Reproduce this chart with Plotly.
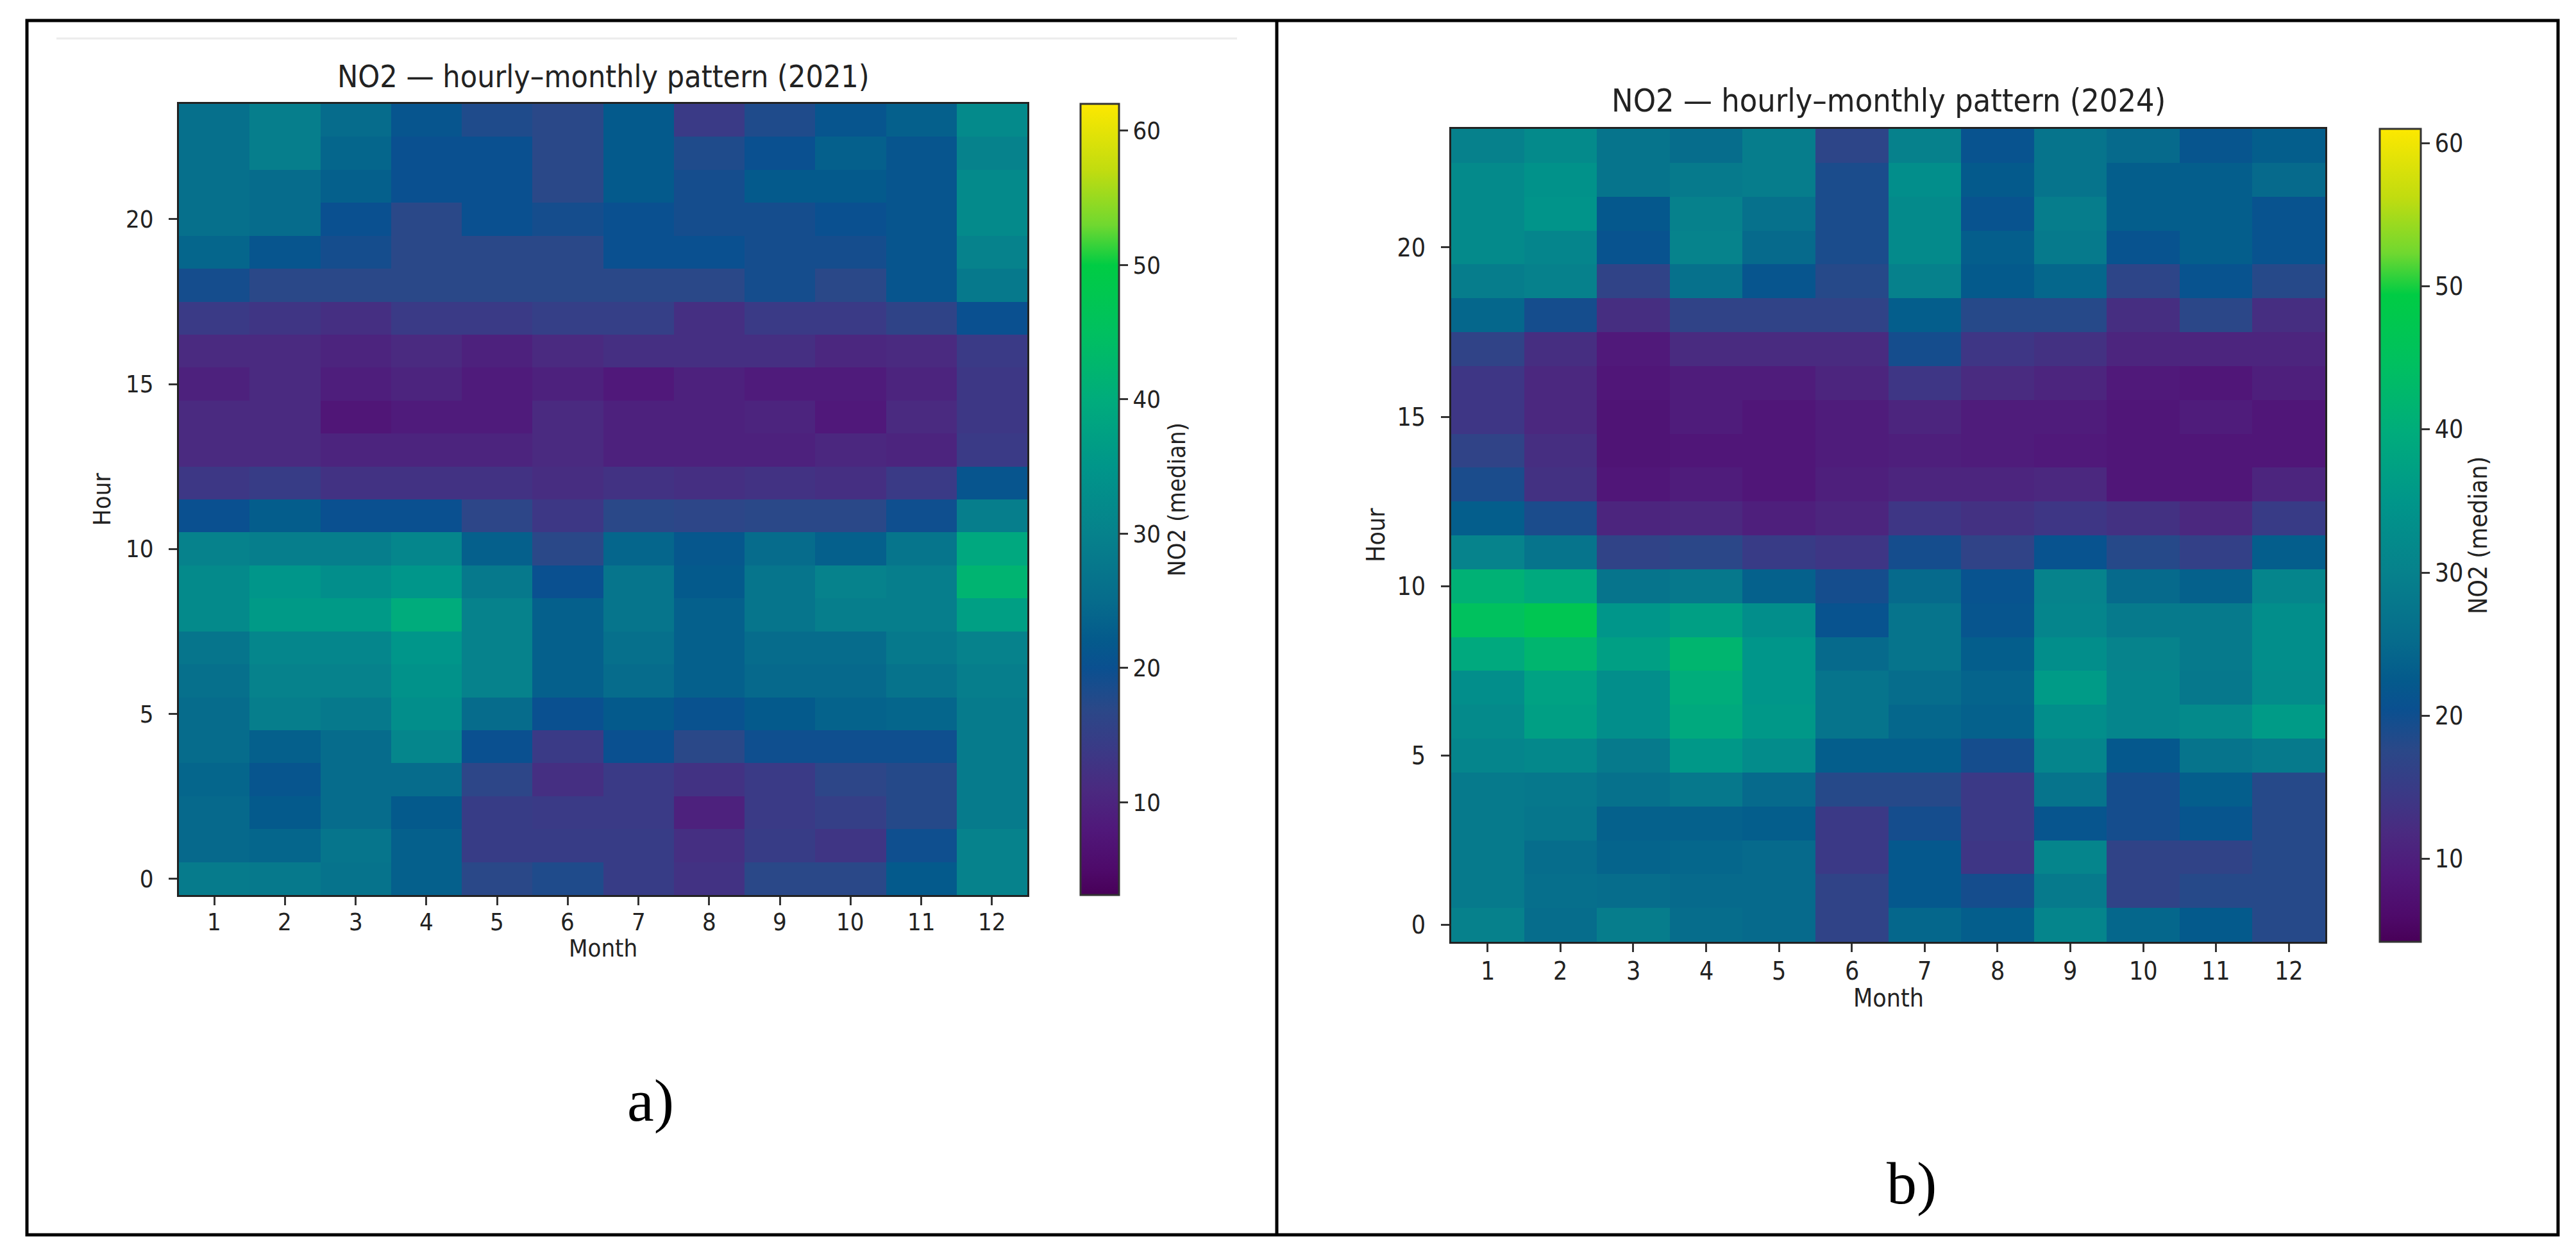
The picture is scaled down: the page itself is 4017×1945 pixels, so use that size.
import plotly.graph_objects as go

W, H = 4017, 1945

# ---------------- data ----------------
months = list(range(1, 13))
hours = list(range(24))
hour_ticks = [0, 5, 10, 15, 20]
cbar_ticks = [10, 20, 30, 40, 50, 60]

# NO2 median, rows = hour 0..23, columns = month 1..12
no2_2021 = [
    [28.5, 28, 26.5, 23, 17, 18, 14.5, 12.5, 17, 17, 22, 30],
    [24.5, 24, 27, 23, 14.5, 14.5, 14.5, 12, 14.5, 13, 19.5, 30],
    [24.5, 22, 25, 22, 14.5, 14, 14, 9.5, 14, 15, 17.5, 28.5],
    [24, 21, 25, 25, 16.5, 12, 14, 12.5, 14, 16.5, 17.5, 28.5],
    [25, 23, 25, 31, 20, 14, 20, 17, 19.5, 19.5, 19.5, 28.5],
    [25, 29, 28, 33, 25, 20, 22, 20.5, 22, 23.5, 24, 28.5],
    [26, 30, 30, 34, 30, 23, 25, 23, 24.5, 24.5, 26.5, 29],
    [27, 31, 31, 35, 30, 23, 26, 23, 25, 25, 28, 30],
    [32, 36, 36, 40, 30, 23, 27, 23, 27, 29, 29, 37],
    [32, 35, 33, 35, 28, 20, 27, 22, 27, 30, 29, 42],
    [30, 29, 29, 31, 23, 17, 24, 21.5, 25, 23, 27, 39],
    [20, 22.5, 20, 20, 16.5, 13.5, 17, 16.5, 17, 17, 19.5, 29],
    [13.5, 14.5, 12.5, 12.5, 12.5, 11.5, 12.5, 12, 12.5, 12, 14, 21],
    [11, 11, 10, 10, 10, 11, 9.5, 9.5, 9.5, 10.5, 10, 14],
    [11, 11, 7.5, 8.5, 8.5, 11, 9.5, 9.5, 10, 8, 11, 13.5],
    [9.5, 11, 9, 10, 8.5, 9.5, 8, 9.5, 8.5, 8.5, 10, 13.5],
    [11, 11, 10, 11, 9.5, 11, 12, 12, 12, 10.5, 11, 14],
    [14, 13, 12, 14, 14, 15, 15, 12, 14, 14, 16, 20],
    [19, 17, 17, 17, 17, 17, 17, 17, 19, 17, 21, 28],
    [24, 21, 19, 17, 17, 17, 20, 20, 19, 19, 21, 30],
    [26, 25, 20, 17, 20, 19, 20, 19, 19, 20, 21, 32],
    [26, 25, 23, 20, 20, 17, 22, 19, 22, 22, 21, 32],
    [26, 29, 24, 20, 20, 17, 22, 18, 20, 23, 21, 30],
    [26, 29, 25, 21, 18, 17, 22, 14, 18, 21, 23, 32],
]

no2_2024 = [
    [30, 25.5, 29, 25.5, 25, 16.5, 24.5, 23, 31, 24.5, 22.5, 18],
    [28.5, 26, 25.5, 25, 25, 16.5, 22, 19.5, 28.5, 16.5, 18, 18],
    [28.5, 25.5, 24, 24.5, 25, 14.5, 22, 14, 31, 16.5, 16.5, 18],
    [28.5, 27.5, 23.5, 23.5, 23, 14.5, 19.5, 14.5, 21.5, 19.5, 21.5, 18],
    [28.5, 28, 26.5, 28, 25, 18, 18, 14.5, 27, 19.5, 23, 18],
    [31, 31.5, 28.5, 35.5, 32.5, 23, 23, 19.5, 31, 22, 27, 28.5],
    [32, 37, 33, 39, 35.5, 27, 24.5, 23.5, 33, 31, 32, 36],
    [33, 37.5, 33, 40, 35, 27, 25.5, 24, 36, 31, 28, 32.5],
    [39, 42, 37, 42, 35, 25, 27, 23, 33, 30.5, 28.5, 33],
    [45, 47, 35, 37, 33, 21, 27, 21.5, 31, 28.5, 28.5, 33],
    [41, 39, 27, 28, 23.5, 19.5, 25, 21, 30.5, 25, 23.5, 31],
    [30.5, 27, 16.5, 17.5, 15, 14, 19.5, 16.5, 21, 18, 16, 23],
    [23, 19, 11, 11.5, 10, 11, 14, 13, 14, 13, 11.5, 15],
    [19, 13, 8.5, 9.5, 8.5, 10, 11, 11, 11.5, 8.5, 8.5, 11],
    [16.5, 12.5, 8, 8.5, 8.5, 9.5, 10, 9.5, 9, 8.5, 8.5, 8.5],
    [14, 11.5, 8, 9.5, 8.5, 9.5, 11, 9.5, 9.5, 8.5, 9.5, 8.5],
    [14, 11.5, 8.5, 9.5, 9.5, 11, 14, 12, 11, 9, 8.5, 10],
    [16.5, 12.5, 9, 12, 12, 12, 19.5, 14, 13, 11, 11, 11],
    [24.5, 19.5, 12.5, 16.5, 16.5, 16.5, 23, 18, 18, 12.5, 17.5, 12.5],
    [29, 30, 16.5, 26.5, 21.5, 18, 30, 22.5, 24.5, 17, 21, 18],
    [32, 31, 21, 30.5, 25, 19, 32, 23, 28.5, 21, 23, 21],
    [32, 34.5, 22, 30, 26.5, 19, 32, 21, 29, 23, 23, 21],
    [32, 34, 27, 28.5, 29, 19, 33, 22.5, 27, 23, 23, 25],
    [30, 32, 27, 25.5, 29, 17, 30, 21, 27, 25, 21.5, 23],
]

zrange_2021 = (3.1, 62.0)
zrange_2024 = (4.2, 61.0)

title_2021 = "NO2 \u2014 hourly\u2013monthly pattern (2021)"
title_2024 = "NO2 \u2014 hourly\u2013monthly pattern (2024)"
cbar_title = "NO2 (median)"

# ---------------- style ----------------
# colour map as seen in the picture (saturated viridis)
CMAP = [
    [0.000, "#480058"], [0.032, "#4e0a6a"], [0.083, "#50187a"],
    [0.134, "#4a2a80"], [0.185, "#3a3a86"], [0.236, "#2a4888"],
    [0.287, "#0a5090"], [0.321, "#045a8c"], [0.372, "#066c8c"],
    [0.457, "#06828c"], [0.542, "#00968a"], [0.626, "#00ac7c"],
    [0.711, "#00c060"], [0.796, "#00cc44"], [0.847, "#70d830"],
    [0.915, "#c0dc10"], [1.000, "#fde800"],
]
FONT = "DejaVu Sans Condensed, DejaVu Sans, sans-serif"
TXT = "#222222"


def px(x):
    return x / W


def py(y):
    return 1 - y / H


panels = [
    dict(z=no2_2021, zr=zrange_2021, title=title_2021, label="a)",
         x0=271, x1=1594, y0=154, y1=1388, cb_x=1677, cb_w=60,
         fs=38, tfs=48, title_y=111, hour_x=151, month_y=1471, xtl_y=1430,
         cbt_x=1827, lab_x=1006, lab_y=1708),
    dict(z=no2_2024, zr=zrange_2024, title=title_2024, label="b)",
         x0=2255, x1=3618, y0=193, y1=1461, cb_x=3703, cb_w=64,
         fs=39, tfs=50, title_y=149, hour_x=2137, month_y=1548, xtl_y=1506,
         cbt_x=3856, lab_x=2973, lab_y=1837),
]

fig = go.Figure()
annotations = []
shapes = []
layout_axes = {}

for i, p in enumerate(panels):
    sfx = "" if i == 0 else str(i + 1)
    fig.add_trace(go.Heatmap(
        x=months, y=hours, z=p["z"],
        zmin=p["zr"][0], zmax=p["zr"][1],
        colorscale=CMAP,
        xaxis="x" + sfx, yaxis="y" + sfx,
        colorbar=dict(
            x=px(p["cb_x"]), xanchor="left", xpad=0, ypad=0,
            y=(py(p["y0"]) + py(p["y1"])) / 2, yanchor="middle",
            len=p["y1"] - p["y0"], lenmode="pixels",
            thickness=p["cb_w"], thicknessmode="pixels",
            outlinewidth=3, outlinecolor="#333333",
            tickvals=cbar_ticks, ticks="outside", ticklen=13, tickwidth=3,
            tickcolor="#333333",
            tickfont=dict(family=FONT, size=p["fs"], color=TXT),
        ),
        hoverinfo="skip",
    ))
    axis_common = dict(
        showline=True, mirror=True, linecolor="#222222", linewidth=3,
        ticks="outside", ticklen=13, tickwidth=3, tickcolor="#333333",
        showgrid=False, zeroline=False,
        tickfont=dict(family=FONT, size=p["fs"], color=TXT),
    )
    layout_axes["xaxis" + sfx] = dict(
        domain=[px(p["x0"]), px(p["x1"])], range=[0.5, 12.5],
        anchor="y" + sfx, tickvals=months, showticklabels=False, **axis_common)
    layout_axes["yaxis" + sfx] = dict(
        domain=[py(p["y1"]), py(p["y0"])], range=[-0.5, 23.5],
        anchor="x" + sfx, tickvals=hour_ticks, ticklabelstandoff=16, **axis_common)

    # month tick labels placed on the x axis scale
    for m in months:
        annotations.append(dict(
            text=str(m), x=m, xref="x" + sfx, y=py(p["xtl_y"]), yref="paper",
            xanchor="center", yanchor="middle", showarrow=False,
            font=dict(family=FONT, size=p["fs"], color=TXT)))

    cx = (p["x0"] + p["x1"]) / 2
    cy = (p["y0"] + p["y1"]) / 2
    annotations += [
        dict(text=p["title"], x=px(cx), y=py(p["title_y"]), xref="paper", yref="paper",
             xanchor="center", yanchor="middle", showarrow=False,
             font=dict(family=FONT, size=p["tfs"], color=TXT)),
        dict(text="Hour", x=px(p["hour_x"]), y=py(cy), xref="paper", yref="paper",
             xanchor="center", yanchor="middle", textangle=-90, showarrow=False,
             font=dict(family=FONT, size=p["fs"], color=TXT)),
        dict(text="Month", x=px(cx), y=py(p["month_y"]), xref="paper", yref="paper",
             xanchor="center", yanchor="middle", showarrow=False,
             font=dict(family=FONT, size=p["fs"], color=TXT)),
        dict(text=cbar_title, x=px(p["cbt_x"]), y=py(cy), xref="paper", yref="paper",
             xanchor="center", yanchor="middle", textangle=-90, showarrow=False,
             font=dict(family=FONT, size=p["fs"], color=TXT)),
        dict(text=p["label"], x=px(p["lab_x"]), y=py(p["lab_y"]), xref="paper", yref="paper",
             xanchor="center", yanchor="middle", showarrow=False,
             font=dict(family="Liberation Serif, serif", size=94, color="#000000")),
    ]

# frame, divider and faint top rule
shapes += [
    dict(type="rect", xref="paper", yref="paper",
         x0=px(34), x1=px(3981), y0=py(24), y1=py(1918),
         line=dict(color="#000000", width=5), fillcolor="rgba(0,0,0,0)"),
    dict(type="line", xref="paper", yref="paper",
         x0=px(1983), x1=px(1983), y0=py(24), y1=py(1918),
         line=dict(color="#000000", width=5)),
    dict(type="line", xref="paper", yref="paper",
         x0=px(80), x1=px(1921), y0=py(52), y1=py(52),
         line=dict(color="#ececec", width=3)),
]

fig.update_layout(
    width=W, height=H,
    margin=dict(l=0, r=0, t=0, b=0),
    paper_bgcolor="white", plot_bgcolor="white",
    showlegend=False,
    annotations=annotations,
    shapes=shapes,
    **layout_axes,
)

fig.write_html("out.html")
